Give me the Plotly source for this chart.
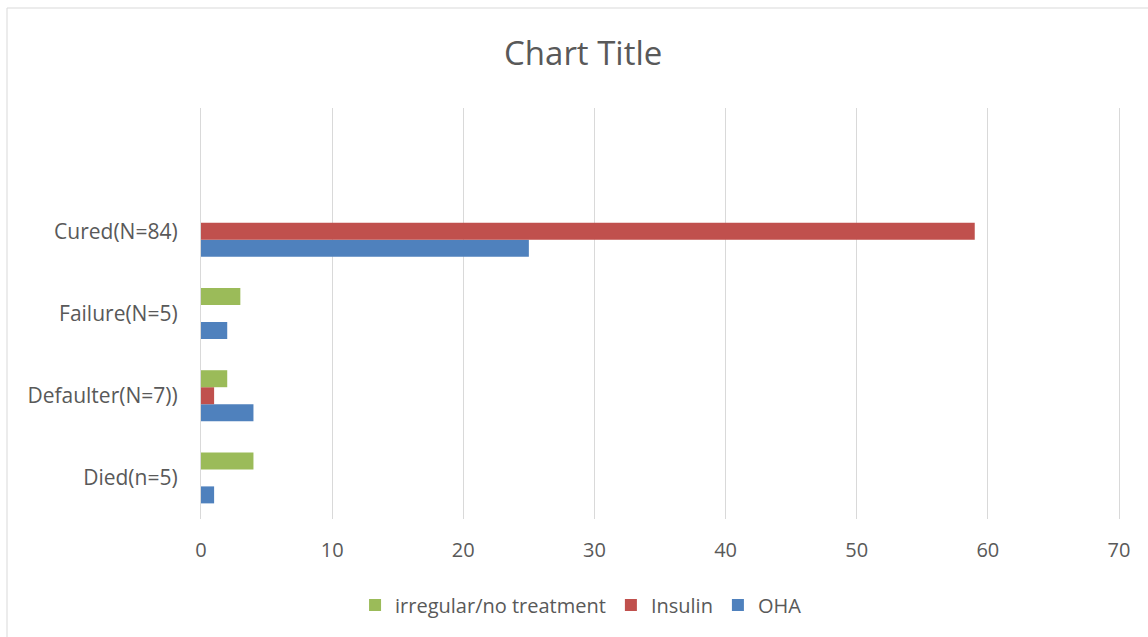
import plotly.graph_objects as go

categories = ["Died(n=5)", "Defaulter(N=7))", "Failure(N=5)", "Cured(N=84)", " "]
oha = [1, 4, 2, 25, None]
insulin = [0, 1, 0, 59, None]
irregular = [4, 2, 3, 0, None]
x_ticks = [0, 10, 20, 30, 40, 50, 60, 70]

font_family = "Open Sans, Lato, sans-serif"
text_color = "#595959"
grid_color = "#d9d9d9"

fig = go.Figure()
fig.add_trace(go.Bar(y=categories, x=oha, orientation="h", name="OHA",
                     marker=dict(color="#4f81bd", line=dict(width=0))))
fig.add_trace(go.Bar(y=categories, x=insulin, orientation="h", name="Insulin",
                     marker=dict(color="#c0504d", line=dict(width=0))))
fig.add_trace(go.Bar(y=categories, x=irregular, orientation="h", name="irregular/no treatment",
                     marker=dict(color="#9bbb59", line=dict(width=0))))

fig.update_layout(
    width=1148, height=637,
    margin=dict(l=201, r=29, t=108, b=118),
    paper_bgcolor="white", plot_bgcolor="white",
    barmode="group", bargap=0.38, bargroupgap=0,
    font=dict(family=font_family, color=text_color, size=20),
    title=dict(text="Chart Title", x=0.508, xanchor="center", y=1 - 53 / 637, yanchor="middle",
               font=dict(size=33, color=text_color, family=font_family)),
    legend=dict(orientation="h", traceorder="reversed", x=0.414, xanchor="center",
                y=(519 - 605) / 411, yanchor="middle", font=dict(size=20, color=text_color),
                itemwidth=30),
    xaxis=dict(range=[0, 70], tickvals=x_ticks, showgrid=True, gridcolor=grid_color, gridwidth=1.3,
               zeroline=False, showline=False, ticks="", ticklabelstandoff=17,
               tickfont=dict(size=20, color=text_color)),
    yaxis=dict(type="category", categoryorder="array", categoryarray=categories,
               range=[-0.5, 4.5], showgrid=False, zeroline=False,
               showline=True, mirror=True, linecolor=grid_color, linewidth=1.3, ticks="",
               ticklabelstandoff=18, tickfont=dict(size=21, color=text_color)),
    showlegend=True,
)

fig.add_shape(type="rect", xref="paper", yref="paper",
              x0=(7 - 201) / 918, x1=(1160 - 201) / 918,
              y0=(519 - 8) / 411, y1=(519 - 650) / 411,
              line=dict(color=grid_color, width=1), fillcolor="rgba(0,0,0,0)", layer="below")

fig.write_html("out.html")
